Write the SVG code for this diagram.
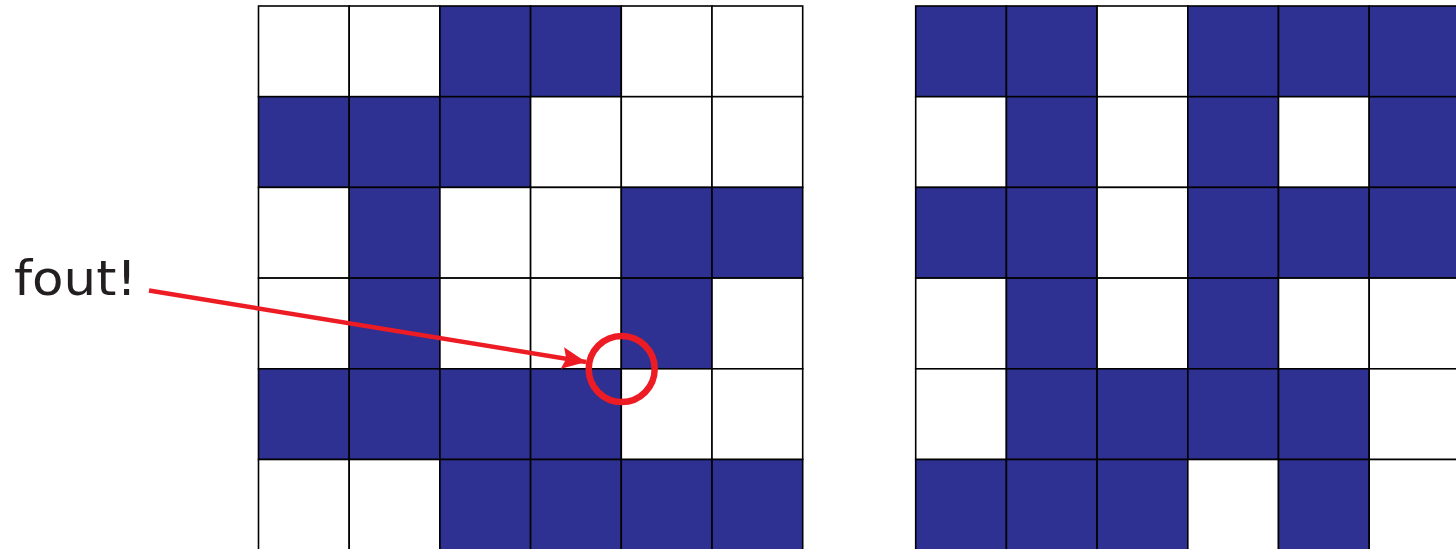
<svg xmlns="http://www.w3.org/2000/svg" width="1456" height="549" viewBox="0 0 1456 549">
<style>
.w{fill:#FFFFFF;stroke:#000;stroke-width:1.6}
.b{fill:#2E3192;stroke:#000;stroke-width:1.6}
.lbl{font-family:"DejaVu Sans",sans-serif;font-size:48px;fill:#231F20}
</style>
<defs>
<marker id="ah" markerUnits="userSpaceOnUse" markerWidth="26" markerHeight="22" refX="24" refY="11" orient="auto">
<path d="M0,0 L24,11 L0,22 L4,11 Z" fill="#ED1C24"/>
</marker>
</defs>
<rect width="1456" height="549" fill="#FFFFFF"/>
<g id="grid-left">
<rect class="w" x="258.5" y="6" width="90.7" height="90.7"/>
<rect class="w" x="349.2" y="6" width="90.7" height="90.7"/>
<rect class="b" x="439.9" y="6" width="90.7" height="90.7"/>
<rect class="b" x="530.6" y="6" width="90.7" height="90.7"/>
<rect class="w" x="621.3" y="6" width="90.7" height="90.7"/>
<rect class="w" x="712" y="6" width="90.7" height="90.7"/>
<rect class="b" x="258.5" y="96.7" width="90.7" height="90.7"/>
<rect class="b" x="349.2" y="96.7" width="90.7" height="90.7"/>
<rect class="b" x="439.9" y="96.7" width="90.7" height="90.7"/>
<rect class="w" x="530.6" y="96.7" width="90.7" height="90.7"/>
<rect class="w" x="621.3" y="96.7" width="90.7" height="90.7"/>
<rect class="w" x="712" y="96.7" width="90.7" height="90.7"/>
<rect class="w" x="258.5" y="187.4" width="90.7" height="90.7"/>
<rect class="b" x="349.2" y="187.4" width="90.7" height="90.7"/>
<rect class="w" x="439.9" y="187.4" width="90.7" height="90.7"/>
<rect class="w" x="530.6" y="187.4" width="90.7" height="90.7"/>
<rect class="b" x="621.3" y="187.4" width="90.7" height="90.7"/>
<rect class="b" x="712" y="187.4" width="90.7" height="90.7"/>
<rect class="w" x="258.5" y="278.1" width="90.7" height="90.7"/>
<rect class="b" x="349.2" y="278.1" width="90.7" height="90.7"/>
<rect class="w" x="439.9" y="278.1" width="90.7" height="90.7"/>
<rect class="w" x="530.6" y="278.1" width="90.7" height="90.7"/>
<rect class="b" x="621.3" y="278.1" width="90.7" height="90.7"/>
<rect class="w" x="712" y="278.1" width="90.7" height="90.7"/>
<rect class="b" x="258.5" y="368.8" width="90.7" height="90.7"/>
<rect class="b" x="349.2" y="368.8" width="90.7" height="90.7"/>
<rect class="b" x="439.9" y="368.8" width="90.7" height="90.7"/>
<rect class="b" x="530.6" y="368.8" width="90.7" height="90.7"/>
<rect class="w" x="621.3" y="368.8" width="90.7" height="90.7"/>
<rect class="w" x="712" y="368.8" width="90.7" height="90.7"/>
<rect class="w" x="258.5" y="459.5" width="90.7" height="90.7"/>
<rect class="w" x="349.2" y="459.5" width="90.7" height="90.7"/>
<rect class="b" x="439.9" y="459.5" width="90.7" height="90.7"/>
<rect class="b" x="530.6" y="459.5" width="90.7" height="90.7"/>
<rect class="b" x="621.3" y="459.5" width="90.7" height="90.7"/>
<rect class="b" x="712" y="459.5" width="90.7" height="90.7"/>
</g>
<g id="grid-right">
<rect class="b" x="915.7" y="6" width="90.7" height="90.7"/>
<rect class="b" x="1006.4" y="6" width="90.7" height="90.7"/>
<rect class="w" x="1097.1" y="6" width="90.7" height="90.7"/>
<rect class="b" x="1187.8" y="6" width="90.7" height="90.7"/>
<rect class="b" x="1278.5" y="6" width="90.7" height="90.7"/>
<rect class="b" x="1369.2" y="6" width="90.7" height="90.7"/>
<rect class="w" x="915.7" y="96.7" width="90.7" height="90.7"/>
<rect class="b" x="1006.4" y="96.7" width="90.7" height="90.7"/>
<rect class="w" x="1097.1" y="96.7" width="90.7" height="90.7"/>
<rect class="b" x="1187.8" y="96.7" width="90.7" height="90.7"/>
<rect class="w" x="1278.5" y="96.7" width="90.7" height="90.7"/>
<rect class="b" x="1369.2" y="96.7" width="90.7" height="90.7"/>
<rect class="b" x="915.7" y="187.4" width="90.7" height="90.7"/>
<rect class="b" x="1006.4" y="187.4" width="90.7" height="90.7"/>
<rect class="w" x="1097.1" y="187.4" width="90.7" height="90.7"/>
<rect class="b" x="1187.8" y="187.4" width="90.7" height="90.7"/>
<rect class="b" x="1278.5" y="187.4" width="90.7" height="90.7"/>
<rect class="b" x="1369.2" y="187.4" width="90.7" height="90.7"/>
<rect class="w" x="915.7" y="278.1" width="90.7" height="90.7"/>
<rect class="b" x="1006.4" y="278.1" width="90.7" height="90.7"/>
<rect class="w" x="1097.1" y="278.1" width="90.7" height="90.7"/>
<rect class="b" x="1187.8" y="278.1" width="90.7" height="90.7"/>
<rect class="w" x="1278.5" y="278.1" width="90.7" height="90.7"/>
<rect class="w" x="1369.2" y="278.1" width="90.7" height="90.7"/>
<rect class="w" x="915.7" y="368.8" width="90.7" height="90.7"/>
<rect class="b" x="1006.4" y="368.8" width="90.7" height="90.7"/>
<rect class="b" x="1097.1" y="368.8" width="90.7" height="90.7"/>
<rect class="b" x="1187.8" y="368.8" width="90.7" height="90.7"/>
<rect class="b" x="1278.5" y="368.8" width="90.7" height="90.7"/>
<rect class="w" x="1369.2" y="368.8" width="90.7" height="90.7"/>
<rect class="b" x="915.7" y="459.5" width="90.7" height="90.7"/>
<rect class="b" x="1006.4" y="459.5" width="90.7" height="90.7"/>
<rect class="b" x="1097.1" y="459.5" width="90.7" height="90.7"/>
<rect class="w" x="1187.8" y="459.5" width="90.7" height="90.7"/>
<rect class="b" x="1278.5" y="459.5" width="90.7" height="90.7"/>
<rect class="w" x="1369.2" y="459.5" width="90.7" height="90.7"/>
</g>
<g id="label">
<text class="lbl" x="14" y="295" textLength="123" lengthAdjust="spacingAndGlyphs">fout!</text>
</g>
<g id="error-mark">
<circle cx="621.7" cy="369" r="33" fill="none" stroke="#ED1C24" stroke-width="6.5"/>
</g>
<g id="connectors">
<line x1="149" y1="290.5" x2="586" y2="362" stroke="#ED1C24" stroke-width="4.5" marker-end="url(#ah)"/>
</g>
</svg>
